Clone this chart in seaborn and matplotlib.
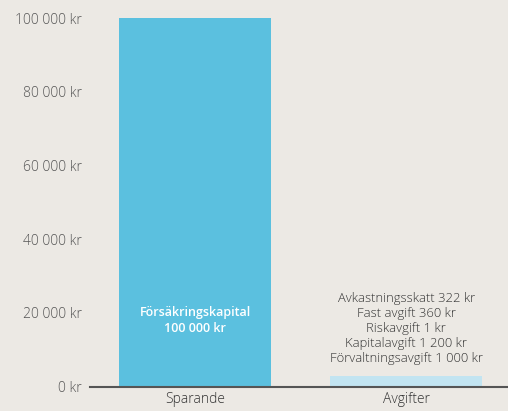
import matplotlib
matplotlib.use("Agg")
import matplotlib.pyplot as plt
import seaborn as sns
import pandas as pd

# Data
categories = ["Sparande", "Avgifter"]
kapital = 100000
fee_names = ["Avkastningsskatt", "Fast avgift", "Riskavgift", "Kapitalavgift", "Förvaltningsavgift"]
fee_values = [322, 360, 1, 1200, 1000]
yticks = [0, 20000, 40000, 60000, 80000, 100000]

def kr(v):
    return f"{v:,}".replace(",", " ") + " kr"

df = pd.DataFrame({"kategori": categories, "belopp": [kapital, sum(fee_values)]})

bg = "#ece9e4"
sns.set_theme(style="white")
plt.rcParams["font.family"] = ["Open Sans", "DejaVu Sans"]

fig = plt.figure(figsize=(5.08, 4.11), dpi=100, facecolor=bg)
ax = fig.add_axes([90 / 508, 1 - 386.5 / 411, 418 / 508, (386.5 - 18) / 411])
ax.set_facecolor(bg)

sns.barplot(data=df, x="kategori", y="belopp", hue="kategori",
            palette=["#5bc0df", "#c2e4f1"], width=0.72, legend=False,
            saturation=1, linewidth=0, ax=ax, zorder=3)

ax.set_xlim(-0.498, 1.483)
ax.set_ylim(0, 100000)
ax.set_yticks(yticks)
ax.set_yticklabels([kr(v) for v in yticks], color="#555555", fontsize=10,
                   fontweight="light")
ax.tick_params(axis="x", colors="#333333", labelsize=10, length=0, pad=4)
ax.tick_params(axis="y", length=0, pad=6)
for t in ax.get_xticklabels():
    t.set_fontweight("light")
ax.set_xlabel("")
ax.set_ylabel("")

for s in ["top", "right", "left"]:
    ax.spines[s].set_visible(False)
ax.spines["bottom"].set_color("#555555")
ax.spines["bottom"].set_linewidth(1.5)
ax.spines["bottom"].set_zorder(4)

# label inside the savings bar
ax.text(0, 18000, "Försäkringskapital\n" + kr(kapital), ha="center", va="center",
        color="white", fontsize=9, fontweight="semibold", linespacing=1.3)

# fee breakdown above the fee bar
fee_lines = [f"{n} {kr(v)}" for n, v in zip(fee_names, fee_values)]
ax.text(1, sum(fee_values) + 2900, "\n".join(fee_lines), ha="center", va="bottom",
        color="#333333", fontsize=9.4, linespacing=1.2, fontweight="light")

fig.savefig("out.png", dpi=100, facecolor=bg)
